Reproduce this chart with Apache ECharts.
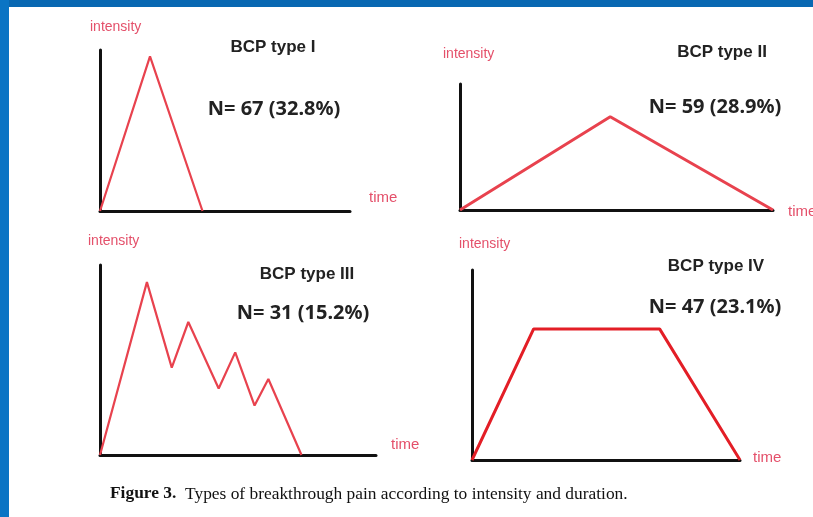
<!DOCTYPE html>
<html>
<head>
<meta charset="utf-8">
<script src="https://cdn.jsdelivr.net/npm/echarts@6/dist/echarts.min.js"></script>
<style>
  html, body { margin: 0; padding: 0; background: #fff; }
  #chart { width: 813px; height: 517px; }
</style>
</head>
<body>
<div id="chart"></div>
<script>
// each panel: time axis 0..100, intensity axis 0..100 (relative units)
const titles = ['BCP type I', 'BCP type II', 'BCP type III', 'BCP type IV']
const counts = ['N= 67 (32.8%)', 'N= 59 (28.9%)', 'N= 31 (15.2%)', 'N= 47 (23.1%)']
const time1 = [0, 20, 41]
const int1 = [0, 96, 0]
const time2 = [0, 48, 100]
const int2 = [0, 74, 0]
const time3 = [0, 17, 26, 32, 43, 49, 56, 61, 73]
const int3 = [0, 91, 46, 70, 35, 54, 26, 40, 0]
const time4 = [0, 23, 70, 100]
const int4 = [0, 69, 69, 0]

const grids = [
  { left: 100, top: 50, width: 250, height: 161 },
  { left: 460, top: 84, width: 313, height: 126 },
  { left: 100, top: 265, width: 276, height: 190 },
  { left: 472, top: 270, width: 268, height: 190 }
]
const lineColors = ['#e8424e', '#e8424e', '#e8424e', '#e31e26']
const lineWidths = [2.2, 3, 2.2, 3]

const pairs = (t, v) => t.map((x, i) => [x, v[i]])
const seriesData = [pairs(time1, int1), pairs(time2, int2), pairs(time3, int3), pairs(time4, int4)]

const axisBase = {
  type: 'value', min: 0, max: 100,
  axisLine: { show: true, onZero: false, lineStyle: { color: '#111', width: 3 } },
  axisTick: { show: false }, axisLabel: { show: false }, splitLine: { show: false }
}

const red = '#e4506a'
const txt = (x, y, text, style) => ({
  type: 'text', x, y,
  style: Object.assign({ text, fill: '#222', textVerticalAlign: 'middle' }, style)
})
const titleFont = 'bold 17px "Liberation Sans", Arial, sans-serif'
const countFont = 'bold 20px "Noto Sans", sans-serif'
const axFont = '14px "Liberation Sans", Arial, sans-serif'
const timeFont = '15px "Liberation Sans", Arial, sans-serif'

const graphic = [
  { type: 'rect', shape: { x: 0, y: 0, width: 813, height: 7 }, style: { fill: '#0868b2' } },
  { type: 'rect', shape: { x: 0, y: 0, width: 9, height: 517 }, style: { fill: '#0a74c4' } },
  // intensity labels
  txt(90, 27, 'intensity', { font: axFont, fill: red }),
  txt(443, 54, 'intensity', { font: axFont, fill: red }),
  txt(88, 241, 'intensity', { font: axFont, fill: red }),
  txt(459, 244, 'intensity', { font: axFont, fill: red }),
  // time labels
  txt(369, 198, 'time', { font: timeFont, fill: red }),
  txt(788, 212, 'time', { font: timeFont, fill: red }),
  txt(391, 445, 'time', { font: timeFont, fill: red }),
  txt(753, 458, 'time', { font: timeFont, fill: red }),
  // titles
  txt(273, 47, titles[0], { font: titleFont, textAlign: 'center' }),
  txt(722, 52, titles[1], { font: titleFont, textAlign: 'center' }),
  txt(307, 274, titles[2], { font: titleFont, textAlign: 'center' }),
  txt(716, 266, titles[3], { font: titleFont, textAlign: 'center' }),
  // counts
  txt(274, 109, counts[0], { font: countFont, textAlign: 'center' }),
  txt(715, 107, counts[1], { font: countFont, textAlign: 'center' }),
  txt(303, 313, counts[2], { font: countFont, textAlign: 'center' }),
  txt(715, 307, counts[3], { font: countFont, textAlign: 'center' }),
  // caption
  {
    type: 'text', x: 110, y: 494,
    style: {
      text: '{b|Figure 3.}  Types of breakthrough pain according to intensity and duration.',
      font: '17.4px "Liberation Serif", "Times New Roman", serif', fill: '#111',
      textVerticalAlign: 'middle',
      rich: { b: { fontWeight: 'bold', fontFamily: '"Liberation Serif", serif', fontSize: 17.4 } }
    }
  }
]

const chart = echarts.init(document.getElementById('chart'))
chart.setOption({
  backgroundColor: '#fff',
  animation: false,
  grid: grids,
  xAxis: grids.map((g, i) => Object.assign({}, axisBase, { gridIndex: i })),
  yAxis: grids.map((g, i) => Object.assign({}, axisBase, { gridIndex: i })),
  series: seriesData.map((d, i) => ({
    type: 'line', xAxisIndex: i, yAxisIndex: i, data: d,
    symbol: 'none', lineStyle: { color: lineColors[i], width: lineWidths[i] }, z: 1
  })),
  graphic
})
</script>
</body>
</html>
